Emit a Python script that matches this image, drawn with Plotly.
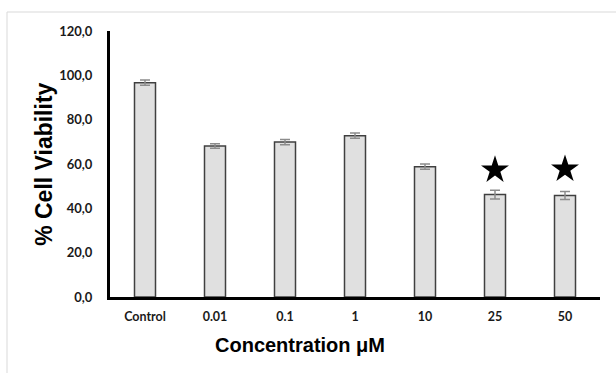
import plotly.graph_objects as go

categories = ["Control", "0.01", "0.1", "1", "10", "25", "50"]
viability = [96.7, 68.1, 69.9, 72.8, 58.8, 46.2, 45.8]
errors = [1.2, 1.0, 1.2, 1.2, 1.2, 2.0, 1.8]
star_categories = ["25", "50"]
star_values = [57.3, 57.7]
y_ticks = [0, 20, 40, 60, 80, 100, 120]

fig = go.Figure()
fig.add_trace(go.Bar(
    x=categories, y=viability, width=0.3,
    marker=dict(color="#e0e0e0", line=dict(color="#404040", width=1.5)),
    error_y=dict(type="data", array=errors, color="#8c8c8c", thickness=1.5, width=5),
    showlegend=False,
))
fig.add_trace(go.Scatter(
    x=star_categories, y=star_values, mode="markers",
    marker=dict(symbol="star", size=21, color="black"),
    showlegend=False,
))

y_tick_font = dict(family="Lato, Liberation Sans, sans-serif", size=13, color="#1a1a1a", weight="bold")
x_tick_font = dict(family="Lato, Liberation Sans, sans-serif", size=12.5, color="#1a1a1a", weight="bold")
fig.update_layout(
    width=616, height=373,
    margin=dict(l=110, r=16, t=31, b=76),
    paper_bgcolor="white", plot_bgcolor="white",
    separators=", ",
    bargap=0.7,
    xaxis=dict(
        showline=True, linecolor="black", linewidth=3, showgrid=False,
        ticks="outside", ticklen=6, tickcolor="rgba(0,0,0,0)",
        tickfont=x_tick_font, range=[-0.5, 6.5],
    ),
    yaxis=dict(
        showline=True, linecolor="black", linewidth=3, showgrid=False,
        range=[0, 120], tickvals=y_ticks, tickformat=".1f",
        ticks="outside", ticklen=12, tickcolor="rgba(0,0,0,0)",
        tickfont=y_tick_font, zeroline=False,
    ),
    annotations=[
        dict(text="<b>Concentration μM</b>", xref="paper", yref="paper",
             x=0.388, y=-0.18, showarrow=False, xanchor="center", yanchor="middle",
             font=dict(family="Liberation Sans, Arial, sans-serif", size=20, color="black")),
        dict(text="<b>% Cell Viability</b>", xref="paper", yref="paper",
             x=-0.135, y=0.5, showarrow=False, textangle=-90,
             xanchor="center", yanchor="middle",
             font=dict(family="Liberation Sans, Arial, sans-serif", size=23, color="black")),
    ],
    shapes=[
        dict(type="rect", xref="paper", yref="paper",
             x0=-0.2102, x1=1.05, y0=-0.35, y1=1.0714,
             line=dict(color="#d9d9d9", width=1), layer="below"),
    ],
)

fig.write_html("out.html")
